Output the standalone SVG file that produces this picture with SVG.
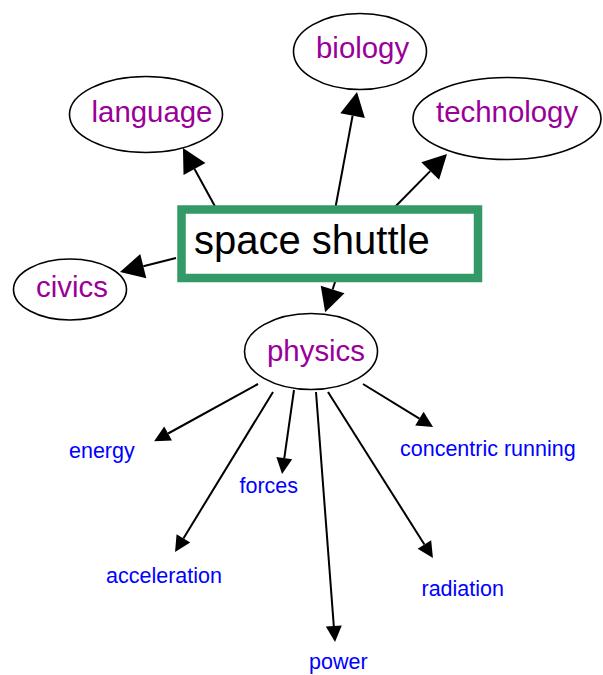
<svg xmlns="http://www.w3.org/2000/svg" width="603" height="675" viewBox="0 0 603 675">
<style>
.edge{stroke:#000;stroke-width:2;fill:none}
.big{marker-end:url(#ahBig)}
.small{marker-end:url(#ahSmall)}
.oval{fill:#fff;stroke:#000;stroke-width:1.6}
.topic{font-family:"Liberation Sans",Arial,sans-serif;font-size:29.4px;fill:#990099}
.leaf{font-family:"Liberation Sans",Arial,sans-serif;font-size:21.5px;fill:#0000ff}
.main{font-family:"Liberation Sans",Arial,sans-serif;font-size:40px;fill:#000}
</style>
<defs>
<marker id="ahBig" markerUnits="userSpaceOnUse" markerWidth="30" markerHeight="30" refX="0" refY="0" orient="auto" overflow="visible">
<path d="M0,-12.5 L24,0 L0,12.5 Z" fill="#000"/>
</marker>
<marker id="ahSmall" markerUnits="userSpaceOnUse" markerWidth="20" markerHeight="20" refX="0" refY="0" orient="auto" overflow="visible">
<path d="M0,-8 L16,0 L0,8 Z" fill="#000"/>
</marker>
</defs>
<rect width="603" height="675" fill="#fff"/>
<g id="connectors">
<line class="edge big" x1="217" y1="210" x2="194.5" y2="169"/>
<line class="edge big" x1="335" y1="210" x2="352.6" y2="115.6"/>
<line class="edge big" x1="392" y1="210" x2="430.2" y2="171.1"/>
<line class="edge big" x1="176" y1="258" x2="143.3" y2="266.2"/>
<line class="edge big" x1="337" y1="276" x2="332.6" y2="289.5"/>
<line class="edge small" x1="258" y1="384" x2="168.1" y2="433.5"/>
<line class="edge small" x1="273" y1="392" x2="183.4" y2="538.4"/>
<line class="edge small" x1="294" y1="390" x2="284.3" y2="458.2"/>
<line class="edge small" x1="316" y1="392" x2="333.8" y2="626"/>
<line class="edge small" x1="328" y1="392" x2="424.4" y2="544.5"/>
<line class="edge small" x1="363" y1="384" x2="419.4" y2="418.6"/>
</g>
<g id="space-shuttle">
<rect x="181.5" y="209.5" width="296.5" height="68.5" fill="#fff" stroke="#339966" stroke-width="8.5"/>
<text class="main" x="194" y="254">space shuttle</text>
</g>
<g id="language">
<ellipse class="oval" cx="146" cy="114.5" rx="76.5" ry="38"/>
<text class="topic" x="91.5" y="122">language</text>
</g>
<g id="biology">
<ellipse class="oval" cx="360" cy="51.5" rx="66.5" ry="38"/>
<text class="topic" x="316" y="58">biology</text>
</g>
<g id="technology">
<ellipse class="oval" cx="507" cy="118.5" rx="94" ry="41"/>
<text class="topic" x="436" y="122">technology</text>
</g>
<g id="civics">
<ellipse class="oval" cx="70" cy="289.5" rx="56.5" ry="30.5"/>
<text class="topic" x="36" y="297">civics</text>
</g>
<g id="physics">
<ellipse class="oval" cx="311" cy="351.5" rx="66.5" ry="38"/>
<text class="topic" x="267" y="361">physics</text>
</g>
<g id="energy"><text class="leaf" x="69" y="458">energy</text></g>
<g id="acceleration"><text class="leaf" x="106" y="583">acceleration</text></g>
<g id="forces"><text class="leaf" x="239.5" y="492.5">forces</text></g>
<g id="power"><text class="leaf" x="309" y="669">power</text></g>
<g id="radiation"><text class="leaf" x="421.5" y="596">radiation</text></g>
<g id="concentric-running"><text class="leaf" x="400" y="456">concentric running</text></g>
</svg>
